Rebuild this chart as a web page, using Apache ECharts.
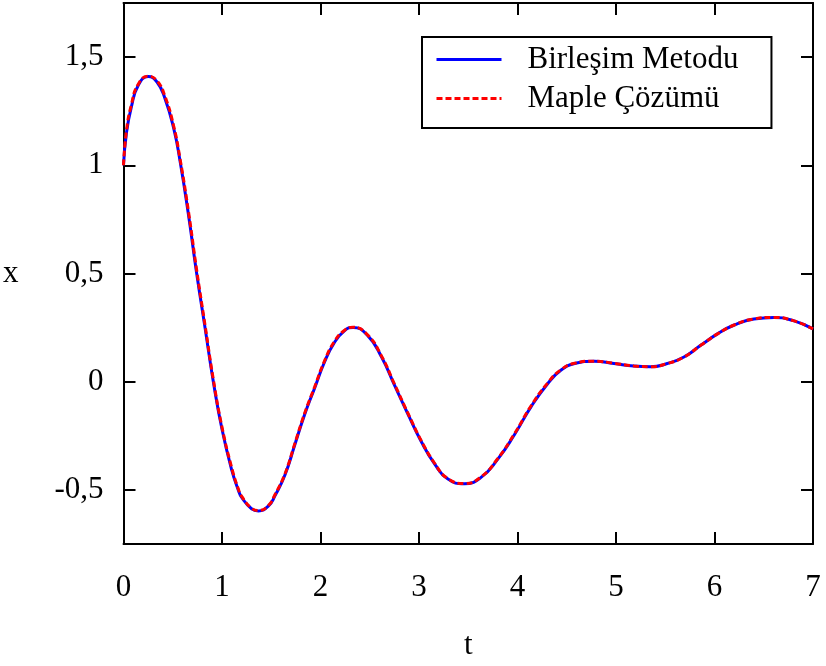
<!DOCTYPE html>
<html>
    <head>
        <meta charset="utf-8">
        <script src="https://cdn.jsdelivr.net/npm/echarts@6/dist/echarts.min.js"></script>
    </head>
    <body style="margin: 0;">
        <style>
            #main {
                width: 826px;
                height: 666px;
            }
        </style>
        <div id="main"></div>
        <script>
            var tValues = [0.00, 0.03, 0.08, 0.15, 0.25, 0.34, 0.42, 0.51, 0.574, 0.66, 0.743, 0.83, 0.912,
                1.00, 1.10, 1.165, 1.20, 1.30, 1.37, 1.47, 1.54, 1.64, 1.74, 1.84, 1.94,
                2.04, 2.14, 2.245, 2.33, 2.48, 2.62, 2.75, 2.89, 3.02, 3.16, 3.29, 3.46,
                3.63, 3.80, 3.97, 4.14, 4.31, 4.44, 4.58, 4.78, 4.98, 5.18, 5.35, 5.52,
                5.69, 5.86, 6.03, 6.20, 6.40, 6.60, 6.80, 7.00];
            var birlesim = [1.00, 1.15, 1.27, 1.37, 1.41, 1.385, 1.31, 1.17, 1.02, 0.77, 0.50, 0.243, 0.00,
                -0.22, -0.41, -0.50, -0.535, -0.587, -0.597, -0.575, -0.525, -0.43, -0.29, -0.15, -0.03,
                0.09, 0.18, 0.236, 0.251, 0.213, 0.114, -0.015, -0.152, -0.274, -0.381, -0.449, -0.472,
                -0.442, -0.358, -0.244, -0.114, -0.007, 0.053, 0.084, 0.095, 0.084, 0.072, 0.069, 0.084,
                0.114, 0.168, 0.221, 0.262, 0.290, 0.297, 0.282, 0.244];
            var maple = [1.00, 1.16, 1.28, 1.375, 1.412, 1.39, 1.32, 1.18, 1.03, 0.785, 0.515, 0.255, 0.01,
                -0.21, -0.40, -0.495, -0.53, -0.585, -0.595, -0.573, -0.52, -0.425, -0.285, -0.145, -0.025,
                0.095, 0.185, 0.238, 0.252, 0.215, 0.118, -0.01, -0.148, -0.27, -0.378, -0.447, -0.471,
                -0.44, -0.355, -0.24, -0.11, -0.004, 0.055, 0.085, 0.095, 0.085, 0.073, 0.069, 0.084,
                0.114, 0.168, 0.221, 0.262, 0.290, 0.297, 0.282, 0.244];
            var xTicks = [0, 1, 2, 3, 4, 5, 6, 7];
            var yTicks = [-0.5, 0, 0.5, 1, 1.5];

            var font = 'Liberation Serif';
            var fontSize = 31;

            function pairs(ys) {
                return tValues.map(function (t, i) {
                    return [t, ys[i]];
                });
            }

            var frameLine = { show: true, onZero: false, lineStyle: { color: '#000', width: 2 } };
            var tickStyle = { show: true, inside: true, length: 12, lineStyle: { color: '#000', width: 2 } };

            var chart = echarts.init(document.getElementById('main'));
            chart.setOption({
                backgroundColor: '#fff',
                animation: false,
                grid: {
                    left: 122,
                    top: 3,
                    right: 13,
                    bottom: 117
                },
                legend: {
                    left: 422,
                    top: 37,
                    orient: 'vertical',
                    align: 'left',
                    padding: [7, 33, 14, 13],
                    itemGap: 8,
                    itemWidth: 65,
                    itemHeight: 14,
                    borderColor: '#000',
                    borderWidth: 2,
                    itemStyle: { opacity: 0 },
                    lineStyle: { width: 3 },
                    textStyle: {
                        fontFamily: font,
                        fontSize: fontSize,
                        color: '#000',
                        padding: [4, 0, 0, 21]
                    },
                    data: ['Birleşim Metodu', 'Maple Çözümü']
                },
                xAxis: [{
                    type: 'value',
                    position: 'bottom',
                    min: 0,
                    max: 7,
                    interval: 1,
                    name: 't',
                    nameLocation: 'middle',
                    nameGap: 86,
                    nameTextStyle: { fontFamily: font, fontSize: fontSize, color: '#000' },
                    axisLine: frameLine,
                    axisTick: tickStyle,
                    splitLine: { show: false },
                    axisLabel: {
                        customValues: xTicks,
                        fontFamily: font,
                        fontSize: fontSize,
                        color: '#000',
                        margin: 28
                    }
                }, {
                    type: 'value',
                    position: 'top',
                    min: 0,
                    max: 7,
                    interval: 1,
                    axisLine: frameLine,
                    axisTick: tickStyle,
                    splitLine: { show: false },
                    axisLabel: { show: false }
                }],
                yAxis: [{
                    type: 'value',
                    position: 'left',
                    min: -0.75,
                    max: 1.75,
                    interval: 0.25,
                    name: 'x',
                    nameLocation: 'middle',
                    nameRotate: 0,
                    nameGap: 105,
                    nameTextStyle: { fontFamily: font, fontSize: fontSize, color: '#000' },
                    axisLine: frameLine,
                    axisTick: Object.assign({ customValues: yTicks }, tickStyle),
                    splitLine: { show: false },
                    axisLabel: {
                        customValues: yTicks,
                        fontFamily: font,
                        fontSize: fontSize,
                        color: '#000',
                        margin: 20,
                        padding: [6, 0, 0, 0],
                        formatter: function (v) {
                            return String(v).replace('.', ',');
                        }
                    }
                }, {
                    type: 'value',
                    position: 'right',
                    min: -0.75,
                    max: 1.75,
                    interval: 0.25,
                    axisLine: frameLine,
                    axisTick: Object.assign({ customValues: yTicks }, tickStyle),
                    splitLine: { show: false },
                    axisLabel: { show: false }
                }],
                series: [{
                    name: 'Birleşim Metodu',
                    type: 'line',
                    smooth: 0.5,
                    symbol: 'none',
                    lineStyle: { color: '#0000ff', width: 3 },
                    itemStyle: { color: '#0000ff' },
                    data: pairs(birlesim)
                }, {
                    name: 'Maple Çözümü',
                    type: 'line',
                    smooth: 0.5,
                    symbol: 'none',
                    lineStyle: { color: '#ff0000', width: 3, type: [6, 3] },
                    itemStyle: { color: '#ff0000' },
                    data: pairs(maple)
                }]
            });
        </script>
    </body>
</html>
